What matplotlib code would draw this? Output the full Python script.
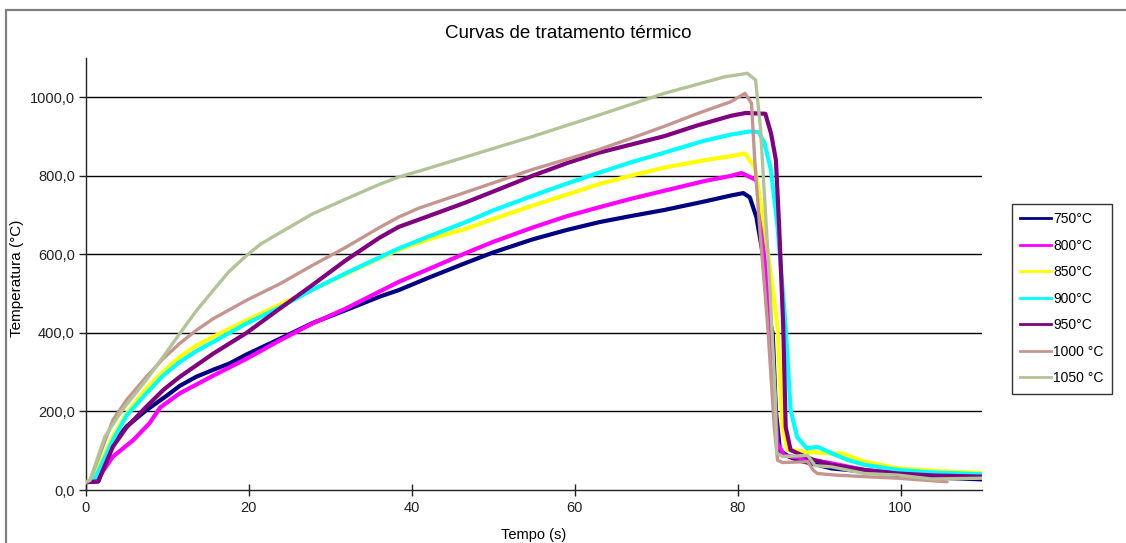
import matplotlib
matplotlib.use("Agg")
import matplotlib.pyplot as plt
from matplotlib.lines import Line2D
from matplotlib.patches import Rectangle
from matplotlib.ticker import FuncFormatter, MultipleLocator

plt.rcParams['font.family'] = ['Liberation Sans', 'DejaVu Sans']

# ---------------- data ----------------
labels = ["750°C", "800°C", "850°C", "900°C", "950°C", "1000 °C", "1050 °C"]
colors = ["#000080", "#FF00FF", "#FFFF00", "#00FFFF", "#800080", "#C4968F", "#B3C398"]

t_750 = [0, 1.5, 3.3, 5, 7.4, 9.9, 11.5, 13.5, 15.6, 17.6, 19.7, 23.8, 27.8, 31.9, 36, 38.4,
         42, 46.6, 50, 54.8, 59, 63, 67, 71, 76, 79.2, 80.7, 81.5, 82.3, 83.1, 83.7, 84.3,
         84.7, 85.2, 86.3, 87.5, 89.8, 91.5, 95.6, 99.7, 104, 110]
T_750 = [20, 22, 119, 162, 203, 240, 265, 288, 306, 322, 345, 385, 425, 458, 492, 509,
         540, 578, 605, 638, 662, 682, 698, 713, 735, 750, 756, 745, 695, 600, 450, 400,
         200, 100, 85, 75, 64, 55, 47, 38, 32, 27]

t_800 = [0, 0.9, 1.5, 3.3, 5.8, 7.8, 9.1, 11.5, 15.5, 19.7, 23.8, 27.8, 31.9, 36, 38.4, 42,
         46.6, 50, 54.8, 59, 63, 67, 71, 76, 79.2, 80.5, 82.3, 82.7, 83.7, 84.5, 84.9,
         85.7, 87.5, 89.4, 91.5, 95.6, 99.7, 104, 110]
T_800 = [20, 22, 30, 85, 127, 170, 210, 246, 290, 334, 381, 424, 462, 505, 530, 562,
         603, 632, 668, 697, 720, 742, 762, 787, 800, 807, 789, 738, 500, 246, 119,
         88, 82, 76, 68, 51, 42, 36, 32]

t_850 = [0, 0.8, 3.3, 5, 7.4, 9.5, 11.5, 13.5, 15.6, 19.7, 23.8, 27.8, 31.9, 36, 38.4, 42,
         46.6, 50, 54.8, 59, 63, 67, 71, 76, 79.2, 80.9, 82.1, 83.3, 84.9, 85.5, 86.1,
         88.6, 91.6, 92.8, 95.6, 99.7, 103.8, 110]
T_850 = [20, 25, 136, 195, 258, 302, 339, 367, 390, 432, 472, 510, 550, 590, 612, 638,
         665, 690, 724, 752, 779, 801, 821, 840, 850, 857, 822, 670, 415, 160, 102,
         97, 93, 93, 72, 55, 49, 43]

t_900 = [0, 1.0, 3.3, 5, 7.4, 9.5, 11.5, 13.5, 15.6, 19.7, 23.8, 27.8, 31.9, 36, 38.4, 42,
         46.6, 50, 54.8, 59, 63, 67, 71, 76, 79.2, 81.5, 82.6, 83.3, 84.1, 84.9, 85.9,
         86.5, 87.3, 88.5, 89.8, 91.6, 93.6, 95.6, 99.7, 103.8, 110]
T_900 = [20, 25, 127, 190, 246, 292, 326, 353, 377, 424, 465, 510, 552, 592, 615, 645,
         682, 712, 749, 780, 808, 835, 859, 890, 905, 913, 911, 883, 814, 670, 415,
         204, 135, 106, 110, 93, 76, 64, 51, 45, 40]

t_950 = [0, 1.5, 3.3, 5, 7.4, 9.5, 11.5, 15.6, 19.7, 23.8, 27.8, 31.9, 36, 38.4, 42, 46.6,
         50, 54.8, 59, 63, 67, 71, 75, 79.2, 81, 83.4, 84.1, 84.7, 85.1, 85.6, 85.9,
         86.5, 87.4, 89.4, 91.5, 95.6, 99.7, 104, 110]
T_950 = [20, 22, 110, 160, 212, 255, 288, 347, 400, 462, 522, 585, 642, 670, 697, 732,
         760, 800, 832, 859, 880, 901, 928, 953, 960, 958, 908, 840, 670, 415, 160,
         102, 93, 76, 64, 51, 42, 37, 34]

t_1000 = [0, 0.5, 3.3, 5, 7.4, 9.5, 11.5, 13.5, 15.6, 19.7, 23.8, 27.8, 31.9, 36, 38.4,
          40.9, 46.6, 50, 54.8, 59, 63, 67, 71, 75, 79.2, 80.9, 81.7, 82.1, 82.7, 83.7,
          84.5, 84.9, 85.5, 88.6, 89.3, 89.8, 92, 95.6, 99.7, 103, 105.7]
T_1000 = [20, 25, 178, 230, 288, 335, 373, 406, 436, 483, 525, 572, 618, 668, 695,
          718, 758, 782, 816, 842, 867, 896, 926, 958, 989, 1010, 985, 840, 670, 415,
          160, 76, 70, 72, 50, 42, 38, 34, 30, 25, 21]

t_1050 = [0, 0.5, 2.3, 4.5, 7.4, 9.5, 11.5, 13.5, 15.6, 17.5, 19.7, 21.5, 23.8, 27.8, 31.9,
          36, 38.4, 40.9, 46.6, 54.8, 63, 71, 78.4, 81.2, 82.2, 82.8, 83.4, 84.0, 84.6,
          84.8, 85.5, 88.6, 89.5, 91.5, 95.6, 99.7, 103.8, 110]
T_1050 = [20, 25, 135, 205, 280, 340, 398, 455, 508, 555, 597, 627, 655, 703, 741,
          778, 797, 812, 848, 900, 955, 1010, 1052, 1061, 1044, 924, 712, 500, 246,
          94, 85, 88, 62, 59, 42, 38, 28, 30]

series_t = [t_750, t_800, t_850, t_900, t_950, t_1000, t_1050]
series_T = [T_750, T_800, T_850, T_900, T_950, T_1000, T_1050]
line_w = [3.0, 3.0, 3.0, 3.0, 3.0, 2.4, 2.4]

title = "Curvas de tratamento térmico"
xlabel = "Tempo (s)"
ylabel = "Temperatura (°C)"

# ---------------- figure ----------------
W, H = 1126, 543
fig = plt.figure(figsize=(W / 100, H / 100), dpi=100)
fig.patch.set_facecolor("white")

# outer chart border
fig.patches.append(Rectangle((6 / W, -0.1), 1.2, 1 - 10 / H + 0.1, transform=fig.transFigure,
                             fill=False, edgecolor="#808080", linewidth=1.6, zorder=0))

ax = fig.add_axes([86 / W, 1 - 490 / H, (982 - 86) / W, (490 - 58) / H])
ax.set_facecolor("white")

for t, T, c, lw in zip(series_t, series_T, colors, line_w):
    ax.plot(t, T, color=c, lw=lw, solid_joinstyle="round", solid_capstyle="round", zorder=3)

ax.set_xlim(0, 110)
ax.set_ylim(0, 1100)
ax.xaxis.set_major_locator(MultipleLocator(20))
ax.set_yticks([0, 200, 400, 600, 800, 1000])
ax.yaxis.set_major_formatter(FuncFormatter(lambda v, p: f"{v:.1f}".replace(".", ",")))
ax.xaxis.set_major_formatter(FuncFormatter(lambda v, p: f"{int(v)}"))

for yv in [200, 400, 600, 800, 1000]:
    ax.axhline(yv, color="black", lw=1.0, zorder=1)

for s in ["top", "right"]:
    ax.spines[s].set_visible(False)
for s in ["left", "bottom"]:
    ax.spines[s].set_color("#222222")
    ax.spines[s].set_linewidth(1.0)

ax.tick_params(axis="x", direction="inout", length=8, width=1, labelsize=10.5, pad=4, colors="#222222")
ax.tick_params(axis="y", direction="out", length=5, width=1, labelsize=10.5, pad=3, colors="#222222")

ax.set_xlabel(xlabel, fontsize=10.5, labelpad=9)
ax.set_ylabel(ylabel, fontsize=11)
ax.yaxis.set_label_coords(-0.069, 0.49)

fig.text(568 / W, 1 - 33 / H, title, ha="center", va="center", fontsize=13.5)

handles = [Line2D([0], [0], color=c, lw=2.0) for c in colors]
leg = fig.legend(handles, labels, loc="upper left", bbox_to_anchor=(1012 / W, 1 - 204 / H),
                 frameon=True, fancybox=False, fontsize=10, handlelength=2.2,
                 handletextpad=0.15, labelspacing=0.9, borderpad=0.6, borderaxespad=0)
leg.get_frame().set_edgecolor("black")
leg.get_frame().set_linewidth(1.0)

fig.savefig("out.png", dpi=100, facecolor="white")
